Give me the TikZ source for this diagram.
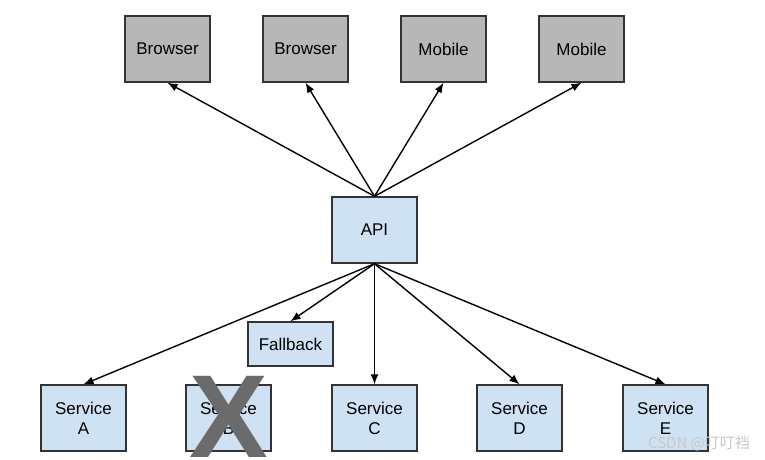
\documentclass[tikz,border=0pt]{standalone}
\usepackage{fontspec}
\setmainfont{Liberation Sans}
\newfontfamily\cjk{Noto Sans CJK SC}
\usetikzlibrary{arrows.meta}
\definecolor{boxblue}{HTML}{CFE2F3}
\definecolor{boxgray}{HTML}{B7B7B7}
\definecolor{edge}{HTML}{333333}
\tikzset{
  box/.style = {draw=edge, line width=1.4pt, minimum width=85pt, minimum height=66pt,
                inner sep=0pt, align=center, font=\fontsize{17}{20}\selectfont},
  client/.style = {box, fill=boxgray},
  service/.style = {box, fill=boxblue},
  link/.style = {line width=1.4pt, -{Latex[length=10pt,width=8pt]}}
}
\begin{document}
\begin{tikzpicture}[x=1pt, y=-1pt]
\useasboundingbox (0, 0) rectangle (765, 460);

\draw (167.5, 49) node[client] (b1) {Browser};
\draw (305.5, 49) node[client] (b2) {Browser};
\draw (443.5, 49) node[client] (m1) {Mobile};
\draw (581.5, 49) node[client] (m2) {Mobile};

\draw (374.5, 230) node[service] (api) {API};
\draw (290.5, 344) node[service, minimum height=44pt] (fb) {Fallback};

\draw (83.5, 418) node[service] (sa) {Service\\A};
\draw (228.5, 418) node[service] (sb) {Service\\B};
\draw (374.5, 418) node[service] (sc) {Service\\C};
\draw (519.5, 418) node[service] (sd) {Service\\D};
\draw (665.5, 418) node[service] (se) {Service\\E};

\draw[link] (api.north) -- (b1.south);
\draw[link] (api.north) -- (b2.south);
\draw[link] (api.north) -- (m1.south);
\draw[link] (api.north) -- (m2.south);

\draw[link] (api.south) -- (fb.north);
\draw[link] (api.south) -- (sa.north);
\draw[link] (api.south) -- (sc.north);
\draw[link] (api.south) -- (sd.north);
\draw[link] (api.south) -- (se.north);

\draw (229, 417) node[inner sep=0pt, text=black!58, font=\fontsize{118}{118}\selectfont\bfseries] (x) {X};

\draw (699, 443) node[inner sep=0pt, text=black!22, font=\cjk\fontsize{15}{15}\selectfont] (wm) {CSDN @叮叮裆};
\end{tikzpicture}
\end{document}
